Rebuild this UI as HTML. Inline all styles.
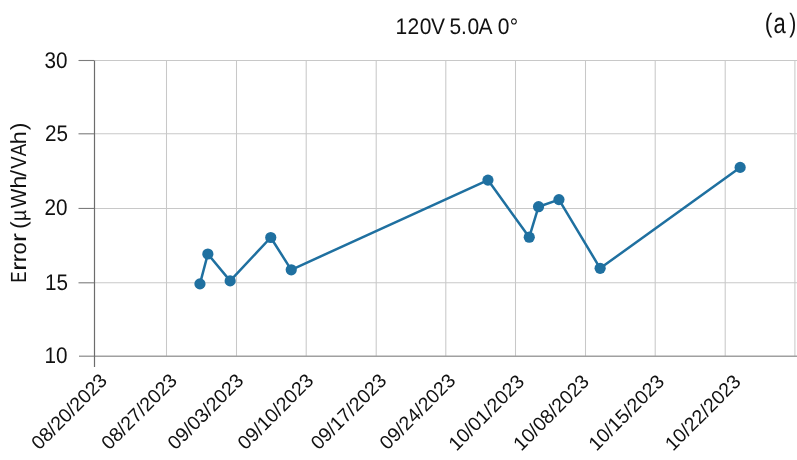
<!DOCTYPE html>
<html>
<head>
<meta charset="utf-8">
<title>120V 5.0A 0°</title>
<style>
html,body{margin:0;padding:0;background:#fff;}
body{width:797px;height:460px;overflow:hidden;font-family:"Liberation Sans",sans-serif;}
svg{display:block;will-change:transform;}
text{font-family:"Liberation Sans",sans-serif;fill:#111;text-rendering:geometricPrecision;}
</style>
</head>
<body>
<svg width="797" height="460" viewBox="0 0 797 460">
<rect width="797" height="460" fill="#fff"/>
<!-- horizontal gridlines -->
<g stroke="#c8c8c8" stroke-width="1.05" fill="none">
<line x1="95" y1="60.5" x2="797" y2="60.5"/>
<line x1="95" y1="133.8" x2="797" y2="133.8"/>
<line x1="95" y1="208.45" x2="797" y2="208.45"/>
<line x1="95" y1="282.8" x2="797" y2="282.8"/>
</g>
<!-- vertical gridlines -->
<g stroke="#c8c8c8" stroke-width="1.05" fill="none">
<line x1="166.5" y1="60" x2="166.5" y2="356"/>
<line x1="236.5" y1="60" x2="236.5" y2="356"/>
<line x1="306.2" y1="60" x2="306.2" y2="356"/>
<line x1="376.2" y1="60" x2="376.2" y2="356"/>
<line x1="445.8" y1="60" x2="445.8" y2="356"/>
<line x1="515.5" y1="60" x2="515.5" y2="356"/>
<line x1="585.5" y1="60" x2="585.5" y2="356"/>
<line x1="655.2" y1="60" x2="655.2" y2="356"/>
<line x1="725.2" y1="60" x2="725.2" y2="356"/>
<line x1="794.9" y1="60" x2="794.9" y2="356"/>
</g>
<!-- bottom axis -->
<line x1="79" y1="356.3" x2="797" y2="356.3" stroke="#a0a0a0" stroke-width="1.6"/>
<!-- y ticks -->
<g stroke="#7c7c7c" stroke-width="1.1">
<line x1="78.5" y1="60.5" x2="94.4" y2="60.5"/>
<line x1="78.5" y1="133.8" x2="95" y2="133.8"/>
<line x1="78.5" y1="208.45" x2="95" y2="208.45"/>
<line x1="78.5" y1="282.8" x2="95" y2="282.8"/>
</g>
<!-- y axis -->
<line x1="94.5" y1="60.6" x2="94.5" y2="367" stroke="#6c6c6c" stroke-width="1.2"/>
<!-- series -->
<polyline fill="none" stroke="#1f70a0" stroke-width="2.5" stroke-linejoin="round" stroke-linecap="round"
 points="199.95,283.90 207.85,254.00 230.15,280.90 270.75,237.50 291.25,269.80 487.95,180.10 529.25,237.20 538.55,206.70 558.95,199.60 600.15,268.30 740.15,167.40"/>
<g fill="#1f70a0">
<circle cx="199.95" cy="283.90" r="5.6"/>
<circle cx="207.85" cy="254.00" r="5.6"/>
<circle cx="230.15" cy="280.90" r="5.6"/>
<circle cx="270.75" cy="237.50" r="5.6"/>
<circle cx="291.25" cy="269.80" r="5.6"/>
<circle cx="487.95" cy="180.10" r="5.6"/>
<circle cx="529.25" cy="237.20" r="5.6"/>
<circle cx="538.55" cy="206.70" r="5.6"/>
<circle cx="558.95" cy="199.60" r="5.6"/>
<circle cx="600.15" cy="268.30" r="5.6"/>
<circle cx="740.15" cy="167.40" r="5.6"/>
</g>
<!-- y labels -->
<g font-size="22.6" text-anchor="end">
<text transform="translate(67.4,68.0) scale(0.915,1)">30</text>
<text transform="translate(68.0,140.8) scale(0.915,1)">25</text>
<text transform="translate(67.4,215.3) scale(0.915,1)">20</text>
<text transform="translate(68.0,289.5) scale(0.915,1)">15</text>
<text transform="translate(67.4,363.3) scale(0.915,1)">10</text>
</g>
<!-- y title -->
<g font-size="21.9">
<text transform="translate(25.8,282.56) rotate(-90) scale(0.758,1)">E</text>
<text transform="translate(25.8,270.78) rotate(-90) scale(1.224,1)">r</text>
<text transform="translate(25.8,262.60) rotate(-90) scale(1.169,1)">r</text>
<text transform="translate(25.8,254.42) rotate(-90) scale(0.996,1)">o</text>
<text transform="translate(25.8,242.08) rotate(-90) scale(1.224,1)">r</text>
<text transform="translate(25.8,228.76) rotate(-90) scale(0.999,1)">(</text>
<text transform="translate(25.8,220.91) rotate(-90) scale(0.876,1)">µ</text>
<text transform="translate(25.8,208.09) rotate(-90) scale(0.937,1)">W</text>
<text transform="translate(25.8,188.58) rotate(-90) scale(1.039,1)">h</text>
<text transform="translate(25.8,176.80) rotate(-90) scale(1.118,1)">/</text>
<text transform="translate(25.8,168.68) rotate(-90) scale(0.853,1)">V</text>
<text transform="translate(25.8,156.14) rotate(-90) scale(0.854,1)">A</text>
<text transform="translate(25.8,144.58) rotate(-90) scale(1.104,1)">h</text>
<text transform="translate(25.8,129.93) rotate(-90) scale(0.999,1)">)</text>
</g>
<!-- title -->
<text transform="translate(0,33.7) scale(1,1.07)" font-size="21" x="395.50 407.46 419.66 430.90 438.90 449.58 460.98 467.46 478.50 486.50 497.66 509.71" y="0">120V 5.0A 0°</text>
<g font-size="26.5">
<text transform="translate(764.76,32.2) scale(0.870,1.000)">(</text>
<text transform="translate(773.42,32.5) scale(0.830,1.085)">a</text>
<text transform="translate(789.27,32.2) scale(0.800,1.000)">)</text>
</g>
<!-- x labels -->
<g font-size="19.5" text-anchor="end">
<text transform="translate(108.3,381.7) rotate(-45)">08/20/2023</text>
<text transform="translate(178.3,381.7) rotate(-45)">08/27/2023</text>
<text transform="translate(244.6,381.7) rotate(-45)">09/03/2023</text>
<text transform="translate(314.6,381.7) rotate(-45)">09/10/2023</text>
<text transform="translate(387.7,381.7) rotate(-45)">09/17/2023</text>
<text transform="translate(456.6,381.7) rotate(-45)">09/24/2023</text>
<text transform="translate(525.4,382.7) rotate(-45)">10/01/2023</text>
<text transform="translate(590.3,382.7) rotate(-45)">10/08/2023</text>
<text transform="translate(665.4,382.7) rotate(-45)">10/15/2023</text>
<text transform="translate(741.9,382.7) rotate(-45)">10/22/2023</text>
</g>
</svg>
</body>
</html>
